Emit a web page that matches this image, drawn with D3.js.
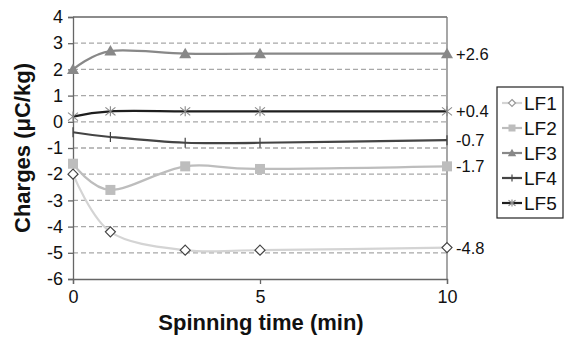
<!DOCTYPE html>
<html>
<head>
<meta charset="utf-8">
<script src="https://cdn.jsdelivr.net/npm/d3@7"></script>
<style>
  body { margin: 0; background: #fff; }
  svg { font-family: Arial, "Liberation Sans", sans-serif; }
</style>
</head>
<body>
<svg id="chart" width="565" height="338"></svg>
<script>
// ---- Data ----
const times = [0, 1, 3, 5, 10];
const lf1 = [-2, -4.2, -4.9, -4.9, -4.8];
const lf2 = [-1.6, -2.6, -1.7, -1.8, -1.7];
const lf3 = [2, 2.7, 2.6, 2.6, 2.6];
const lf4 = [-0.4, -0.58, -0.8, -0.8, -0.7];
const lf5 = [0.2, 0.4, 0.4, 0.4, 0.4];
const seriesNames = ["LF1", "LF2", "LF3", "LF4", "LF5"];
const endLabels = ["-4.8", "-1.7", "+2.6", "-0.7", "+0.4"];
const yTicks = [-6, -5, -4, -3, -2, -1, 0, 1, 2, 3, 4];
const xTicks = [0, 5, 10];

const series = [
  { name: seriesNames[0], values: lf1, color: "#d4d4d4", marker: "diamond", label: endLabels[0] },
  { name: seriesNames[1], values: lf2, color: "#bdbdbd", marker: "square", label: endLabels[1] },
  { name: seriesNames[2], values: lf3, color: "#888888", marker: "triangle", label: endLabels[2] },
  { name: seriesNames[3], values: lf4, color: "#444444", marker: "plus", label: endLabels[3] },
  { name: seriesNames[4], values: lf5, color: "#1e1e1e", marker: "star", label: endLabels[4] }
];

const svg = d3.select("#chart");
const plotL = 73, plotR = 447, plotT = 17, plotB = 279;

const x = d3.scaleLinear().domain([0, 10]).range([plotL, plotR]);
const y = d3.scaleLinear().domain([-6, 4]).range([plotB, plotT]);

// gridlines (dashed)
svg.append("g")
  .selectAll("line")
  .data(yTicks.filter(d => d > -6 && d < 4))
  .join("line")
  .attr("x1", plotL).attr("x2", plotR)
  .attr("y1", d => y(d)).attr("y2", d => y(d))
  .attr("stroke", "#a8a8a8")
  .attr("stroke-width", 1.3)
  .attr("stroke-dasharray", "5,3");

// frame top / right
svg.append("line").attr("x1", plotL).attr("x2", plotR).attr("y1", plotT).attr("y2", plotT)
  .attr("stroke", "#666").attr("stroke-width", 1.3);
svg.append("line").attr("x1", plotR).attr("x2", plotR).attr("y1", plotT).attr("y2", plotB)
  .attr("stroke", "#777").attr("stroke-width", 1.3);

// axes
const yAxis = svg.append("g")
  .attr("transform", `translate(${plotL},0)`)
  .call(d3.axisLeft(y).tickValues(yTicks).tickSize(5).tickPadding(5).tickFormat(d3.format("d")));
const xAxis = svg.append("g")
  .attr("transform", `translate(0,${plotB})`)
  .call(d3.axisBottom(x).tickValues(xTicks).tickSize(5).tickPadding(6));

[yAxis, xAxis].forEach(g => {
  g.select(".domain").attr("stroke", "#666").attr("stroke-width", 1.3);
  g.selectAll(".tick line").attr("stroke", "#666").attr("stroke-width", 1.3);
  g.selectAll("text").attr("font-size", 18).attr("fill", "#111")
    .attr("font-family", "Arial, 'Liberation Sans', sans-serif");
});
yAxis.selectAll("text").text(d => d < 0 ? "-" + Math.abs(d) : d);

// axis titles
svg.append("text")
  .attr("x", (plotL + plotR) / 2 + 1).attr("y", 330)
  .attr("text-anchor", "middle")
  .attr("font-size", 22).attr("font-weight", "bold").attr("fill", "#111")
  .text("Spinning time (min)");
svg.append("text")
  .attr("transform", `translate(30,${(plotT + plotB) / 2}) rotate(-90)`)
  .attr("text-anchor", "middle")
  .attr("font-size", 22).attr("font-weight", "bold").attr("fill", "#111")
  .text("Charges (μC/kg)");

// marker drawing (k = size factor)
function drawMarker(g, type, cx, cy, color, k = 1) {
  if (type === "diamond") {
    const r = 5 * k;
    g.append("path").attr("d", `M${cx},${cy - r}L${cx + r},${cy}L${cx},${cy + r}L${cx - r},${cy}Z`)
      .attr("fill", "#fff").attr("stroke", k < 1 ? "#999" : "#444").attr("stroke-width", 1.2);
  } else if (type === "square") {
    const r = 5 * k;
    g.append("rect").attr("x", cx - r).attr("y", cy - r).attr("width", 2 * r).attr("height", 2 * r)
      .attr("fill", color);
  } else if (type === "triangle") {
    g.append("path").attr("d", `M${cx},${cy - 6 * k}L${cx + 6 * k},${cy + 4.5 * k}L${cx - 6 * k},${cy + 4.5 * k}Z`)
      .attr("fill", color);
  } else if (type === "plus") {
    g.append("line").attr("x1", cx).attr("x2", cx).attr("y1", cy - 5 * k).attr("y2", cy + 5 * k)
      .attr("stroke", color).attr("stroke-width", 1.2);
  } else if (type === "star") {
    [[-5, -4, 5, 4], [-5, 4, 5, -4], [0, -5, 0, 5]].forEach(s => {
      g.append("line").attr("x1", cx + s[0] * k).attr("y1", cy + s[1] * k)
        .attr("x2", cx + s[2] * k).attr("y2", cy + s[3] * k)
        .attr("stroke", "#888").attr("stroke-width", 1.1);
    });
  }
}

const line = d3.line()
  .x((d, i) => x(times[i]))
  .y(d => y(d))
  .curve(d3.curveCatmullRom.alpha(0));

series.forEach(s => {
  svg.append("path")
    .attr("d", line(s.values))
    .attr("fill", "none")
    .attr("stroke", s.color)
    .attr("stroke-width", 2.2);
});
series.forEach(s => {
  const g = svg.append("g");
  s.values.forEach((v, i) => drawMarker(g, s.marker, x(times[i]), y(v), s.color));
  svg.append("text")
    .attr("x", plotR + 9).attr("y", y(s.values[s.values.length - 1]) + 6)
    .attr("font-size", 16.5).attr("fill", "#111")
    .text(s.label);
});

// legend
const lg = svg.append("g");
lg.append("rect").attr("x", 497).attr("y", 87).attr("width", 66).attr("height", 131)
  .attr("fill", "#fff").attr("stroke", "#222").attr("stroke-width", 1.2);
series.forEach((s, i) => {
  const ly = 103 + i * 25;
  lg.append("line").attr("x1", 502).attr("x2", 522).attr("y1", ly).attr("y2", ly)
    .attr("stroke", s.color).attr("stroke-width", 2.2);
  drawMarker(lg, s.marker, 512, ly, s.color, 0.7);
  lg.append("text").attr("x", 524).attr("y", ly + 7)
    .attr("font-size", 19).attr("fill", "#111").text(s.name);
});
</script>
</body>
</html>
